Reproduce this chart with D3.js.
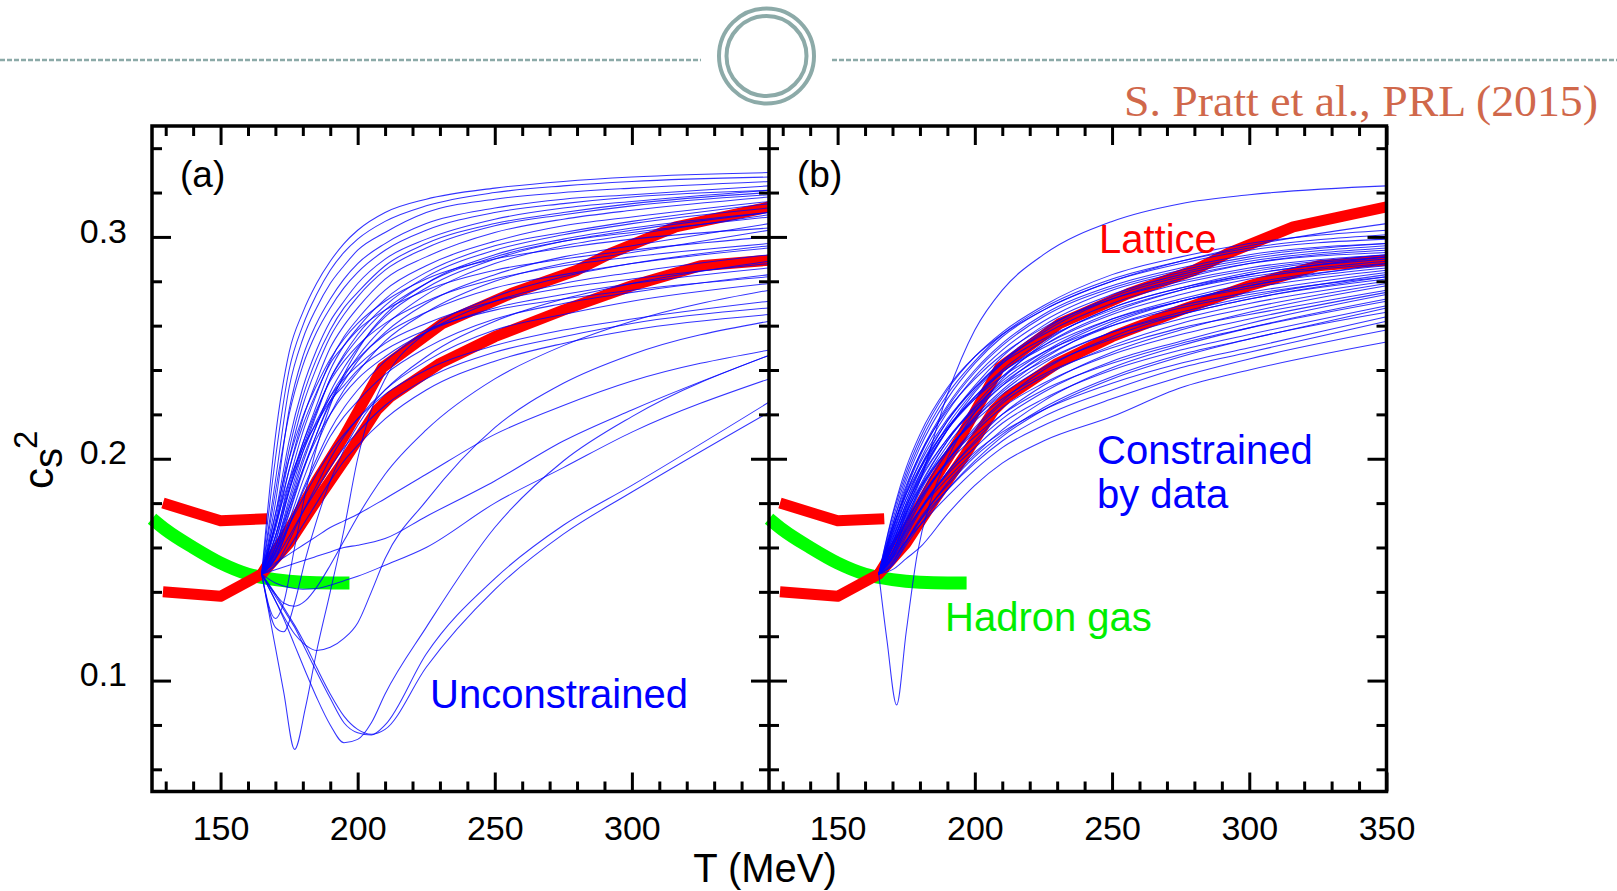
<!DOCTYPE html>
<html><head><meta charset="utf-8">
<script src="https://cdn.jsdelivr.net/npm/d3@7"></script>
<style>body{margin:0;background:#fff;} svg{display:block;}</style>
</head><body>
<svg id="c" width="1617" height="891"></svg>
<script>
// ---------------- data ----------------
const xMajorA = [150, 200, 250, 300];
const xMajorB = [150, 200, 250, 300, 350];
const xMinor = [130,140,160,170,180,190,210,220,230,240,260,270,280,290,310,320,330,340];
const yMajor = [0.1, 0.2, 0.3];
const yMinor = [0.06,0.08,0.12,0.14,0.16,0.18,0.22,0.24,0.26,0.28,0.32,0.34];

// Hadron gas (green)
const hadronT = [125,130,140,150,160,170,180,190,197];
const hadronV = [0.173,0.168,0.160,0.153,0.148,0.1455,0.1443,0.1440,0.1440];

// Lattice (red)
const latLowUpT = [129,150,167];
const latLowUpV = [0.180,0.172,0.173];
const latLowerT = [129,150,165,175,185,195,207,212,230,250,275,300,325,350];
const latLowerV = [0.140,0.138,0.148,0.162,0.181,0.199,0.222,0.228,0.243,0.255,0.267,0.278,0.287,0.2895];
const latUpperT = [165,175,185,195,209,231,256,280,292,316,350];
const latUpperV = [0.148,0.168,0.190,0.210,0.241,0.261,0.2745,0.285,0.2925,0.3045,0.3135];

// Panel (a): unconstrained, rising curves
const tRiseA = [165,170,175,180,185,190,195,200,210,225,250,275,300,350];
const riseA = [
 [.148,.210,.248,.266,.279,.289,.297,.303,.311,.317,.322,.325,.327,.329],
 [.148,.200,.240,.260,.274,.285,.293,.299,.307,.314,.320,.323,.325,.327],
 [.148,.190,.232,.254,.268,.279,.287,.294,.302,.311,.317,.320,.322,.325],
 [.148,.180,.222,.246,.261,.272,.281,.288,.297,.306,.313,.317,.319,.323],
 [.148,.175,.208,.232,.249,.262,.271,.279,.290,.299,.308,.313,.316,.321],
 [.148,.170,.200,.224,.241,.255,.265,.273,.285,.295,.305,.310,.314,.319],
 [.148,.168,.195,.218,.235,.250,.260,.268,.281,.291,.302,.308,.312,.318],
 [.148,.165,.190,.212,.229,.244,.255,.263,.276,.287,.298,.305,.309,.316],
 [.148,.162,.186,.207,.224,.240,.251,.259,.272,.284,.296,.302,.307,.315],
 [.148,.160,.182,.203,.220,.236,.247,.256,.269,.282,.294,.301,.306,.313],
 [.148,.158,.178,.198,.215,.230,.241,.250,.264,.277,.290,.298,.303,.311],
 [.148,.157,.175,.194,.211,.226,.237,.246,.260,.274,.288,.296,.301,.310],
 [.148,.158,.176,.195,.211,.225,.235,.244,.257,.270,.283,.291,.296,.306],
 [.148,.156,.172,.190,.206,.220,.231,.239,.253,.266,.280,.288,.293,.303],
 [.148,.170,.195,.215,.230,.243,.251,.258,.267,.276,.285,.290,.294,.300],
 [.148,.165,.188,.207,.222,.235,.244,.251,.261,.271,.281,.287,.291,.297],
 [.148,.160,.180,.200,.215,.228,.238,.245,.256,.266,.277,.283,.288,.295],
 [.148,.155,.170,.186,.200,.213,.223,.231,.244,.257,.271,.279,.284,.292],
 [.148,.165,.186,.203,.217,.228,.236,.242,.252,.261,.271,.277,.281,.288],
 [.148,.160,.178,.195,.209,.220,.229,.236,.246,.257,.268,.274,.279,.286],
 [.148,.155,.170,.185,.198,.210,.219,.226,.238,.250,.263,.270,.275,.283],
 [.148,.170,.190,.205,.216,.226,.233,.240,.249,.258,.267,.272,.276,.282],
 [.148,.152,.163,.176,.188,.200,.210,.218,.231,.244,.258,.265,.271,.279],
 [.148,.158,.170,.182,.193,.203,.211,.218,.229,.240,.251,.258,.263,.271],
 [.148,.155,.165,.176,.186,.196,.205,.212,.224,.236,.248,.255,.261,.268],
 [.148,.152,.160,.170,.180,.190,.199,.206,.218,.231,.244,.252,.258,.265],
 [.148,.185,.220,.242,.257,.268,.277,.284,.294,.303,.311,.315,.318,.321],
 [.148,.172,.204,.228,.245,.258,.268,.275,.287,.297,.306,.311,.315,.320],
 [.148,.163,.185,.205,.221,.236,.246,.254,.267,.279,.291,.298,.302,.309],
 [.148,.175,.200,.219,.233,.245,.254,.261,.271,.281,.290,.295,.299,.304],
 [.148,.153,.157,.161,.165,.169,.172,.175,.182,.193,.211,.224,.235,.249],
 [.148,.150,.152,.154,.156,.158,.160,.161,.164,.174,.190,.208,.222,.2466],
 [.148,.144,.142,.1412,.1415,.143,.145,.147,.152,.160,.180,.196,.212,.236]
];

// Panel (a): curves with a dip
const tDipA = [165,170,173,177,181,185,190,195,200,205,210,225,250,275,300,350];
const dipA = [
 [.148,.115,.095,.069,.088,.113,.140,.168,.200,.222,.236,.257,.273,.282,.288,.296],
 [.148,.136,.128,.116,.104,.0925,.080,.072,.0735,.081,.094,.124,.169,.199,.219,.2466],
 [.148,.138,.132,.124,.114,.104,.092,.081,.0765,.0755,.080,.112,.146,.170,.188,.2255],
 [.148,.139,.133,.125,.116,.106,.094,.084,.078,.0758,.078,.106,.141,.166,.185,.221],
 [.148,.136,.129,.121,.116,.1136,.115,.119,.126,.140,.155,.181,.214,.234,.247,.262],
 [.148,.139,.135,.1335,.136,.142,.152,.163,.174,.184,.193,.213,.236,.251,.262,.276],
 [.148,.128,.135,.160,.185,.205,.224,.238,.249,.258,.265,.279,.292,.299,.304,.311],
 [.148,.124,.122,.135,.155,.172,.190,.204,.215,.224,.231,.246,.262,.272,.279,.289]
];

// Panel (b): constrained by data
const tB = [165,170,175,180,190,200,210,225,250,275,300,350];
const curvesB = [
 [.148,.175,.196,.211,.232,.246,.256,.267,.280,.289,.296,.306],
 [.148,.172,.192,.207,.229,.244,.256,.268,.281,.289,.295,.301],
 [.148,.170,.190,.205,.227,.243,.255,.267,.280,.288,.294,.299],
 [.148,.168,.187,.202,.224,.240,.252,.265,.278,.286,.292,.297],
 [.148,.166,.184,.199,.221,.237,.249,.262,.276,.284,.290,.296],
 [.148,.163,.180,.195,.217,.233,.246,.260,.274,.283,.289,.295],
 [.148,.160,.176,.191,.213,.230,.243,.257,.272,.281,.288,.294],
 [.148,.170,.188,.202,.222,.236,.247,.259,.272,.280,.286,.292],
 [.148,.165,.182,.196,.217,.232,.244,.256,.270,.279,.285,.292],
 [.148,.162,.178,.192,.213,.228,.240,.253,.268,.277,.284,.291],
 [.148,.158,.173,.187,.208,.224,.237,.251,.266,.276,.283,.290],
 [.148,.168,.185,.198,.218,.232,.243,.254,.267,.276,.282,.289],
 [.148,.164,.180,.193,.213,.227,.239,.251,.265,.274,.281,.288],
 [.148,.160,.175,.188,.208,.223,.235,.248,.263,.272,.279,.287],
 [.148,.156,.170,.183,.203,.219,.231,.245,.261,.271,.278,.286],
 [.148,.166,.182,.195,.214,.228,.239,.250,.263,.271,.277,.285],
 [.148,.162,.177,.190,.209,.223,.234,.246,.260,.269,.275,.284],
 [.148,.158,.172,.185,.204,.218,.230,.243,.257,.266,.273,.283],
 [.148,.155,.168,.180,.199,.214,.226,.240,.255,.265,.272,.282],
 [.148,.164,.179,.191,.209,.222,.233,.244,.257,.265,.272,.281],
 [.148,.160,.174,.186,.204,.218,.229,.241,.254,.263,.270,.280],
 [.148,.156,.169,.181,.199,.213,.225,.237,.251,.261,.268,.279],
 [.148,.153,.165,.176,.194,.208,.220,.233,.248,.258,.266,.278],
 [.148,.162,.176,.187,.204,.217,.227,.238,.250,.259,.265,.276],
 [.148,.158,.171,.182,.199,.212,.223,.234,.247,.256,.263,.275],
 [.148,.155,.166,.177,.194,.207,.218,.230,.244,.253,.261,.274],
 [.148,.152,.162,.172,.189,.202,.213,.226,.241,.251,.259,.272],
 [.148,.160,.172,.182,.198,.210,.220,.231,.243,.252,.259,.271],
 [.148,.156,.167,.177,.193,.205,.216,.227,.240,.249,.256,.269],
 [.148,.153,.163,.173,.188,.201,.211,.223,.237,.247,.254,.268],
 [.148,.158,.168,.177,.191,.203,.212,.222,.234,.243,.250,.264],
 [.148,.154,.163,.172,.186,.198,.208,.219,.231,.241,.248,.262],
 [.148,.155,.163,.170,.183,.195,.205,.215,.227,.237,.245,.258],
 [.148,.150,.155,.160,.175,.188,.198,.208,.219,.232,.240,.2526],
 [.148,.174,.194,.209,.231,.246,.257,.269,.283,.291,.297,.303],
 [.148,.167,.186,.201,.223,.239,.251,.264,.277,.285,.291,.297],
 [.148,.161,.178,.193,.215,.231,.244,.258,.273,.282,.288,.293],
 [.148,.157,.172,.186,.206,.221,.233,.247,.262,.271,.278,.288],
 [.148,.169,.184,.196,.214,.227,.237,.248,.260,.268,.274,.282],
 [.148,.152,.161,.170,.186,.199,.210,.222,.236,.246,.254,.266],
 [.148,.160,.175,.190,.229,.258,.276,.292,.307,.315,.319,.323]
];
const tDipB = [165,168,171.5,175,179,185,190,200,210,225,250,275,300,350];
const dipB = [.148,.118,.089,.122,.157,.185,.200,.221,.236,.252,.268,.277,.283,.291];

// ---------------- drawing ----------------
const svg = d3.select('#c');
svg.append('rect').attr('width',1617).attr('height',891).attr('fill','#fff');

// header decoration
const deco = '#8caaa8';
svg.append('line').attr('x1',0).attr('x2',701).attr('y1',60).attr('y2',60)
  .attr('stroke',deco).attr('stroke-width',2.5).attr('stroke-dasharray','5,2');
svg.append('line').attr('x1',832).attr('x2',1617).attr('y1',60).attr('y2',60)
  .attr('stroke',deco).attr('stroke-width',2.5).attr('stroke-dasharray','5,2');
[47.5, 40].forEach(r => svg.append('circle').attr('cx',766.5).attr('cy',56).attr('r',r)
  .attr('fill','none').attr('stroke',deco).attr('stroke-width',4));

svg.append('text').attr('x',1124).attr('y',116)
  .attr('font-family','"Liberation Serif","DejaVu Serif",serif').attr('font-size',45)
  .attr('fill','#d0684b').attr('textLength',474).attr('lengthAdjust','spacingAndGlyphs')
  .text('S. Pratt et al., PRL (2015)');

const Y0 = 791.5, Y1 = 126, XL = 152, XM = 769, XR = 1386.5;
const y = d3.scaleLinear().domain([0.05,0.35]).range([Y0,Y1]);
const xA = d3.scaleLinear().domain([125,350]).range([XL,XM]);
const xB = d3.scaleLinear().domain([125,350]).range([XM,XR]);

const defs = svg.append('defs');
defs.append('clipPath').attr('id','clipA').append('rect').attr('x',XL).attr('y',Y1).attr('width',XM-XL).attr('height',Y0-Y1);
defs.append('clipPath').attr('id','clipB').append('rect').attr('x',XM).attr('y',Y1).attr('width',XR-XM).attr('height',Y0-Y1);

const pts = (ts, vs) => ts.map((t,i) => ({t, v: vs[i]}));
const FONT = '"Liberation Sans", Arial, Helvetica, sans-serif';

function panel(x, clipId, blueSeries) {
  const smooth = d3.line().x(d => x(d.t)).y(d => y(d.v)).curve(d3.curveMonotoneX);
  const lin = d3.line().x(d => x(d.t)).y(d => y(d.v));
  const g = svg.append('g');
  // hadron gas
  g.append('path').attr('d', smooth(pts(hadronT, hadronV)))
    .attr('fill','none').attr('stroke','#00ff00').attr('stroke-width',13);
  // lattice
  [[latLowUpT,latLowUpV],[latLowerT,latLowerV],[latUpperT,latUpperV]].forEach(([ts,vs]) => {
    g.append('path').attr('d', lin(pts(ts,vs)))
      .attr('fill','none').attr('stroke','#ff0000').attr('stroke-width',11)
      .attr('stroke-linejoin','round');
  });
  // blue models
  const gb = g.append('g').attr('clip-path',`url(#${clipId})`);
  blueSeries.forEach(([ts, vs]) => {
    gb.append('path').attr('d', smooth(pts(ts, vs)))
      .attr('fill','none').attr('stroke','#0000ff').attr('stroke-width',1.05).attr('stroke-opacity',0.8);
  });
}

panel(xA, 'clipA', riseA.map(v => [tRiseA, v]).concat(dipA.map(v => [tDipA, v])));
panel(xB, 'clipB', curvesB.map(v => [tB, v]).concat([[tDipB, dipB]]));

// frame
svg.append('rect').attr('x',XL).attr('y',Y1).attr('width',XR-XL).attr('height',Y0-Y1)
  .attr('fill','none').attr('stroke','#000').attr('stroke-width',3.5);
svg.append('line').attr('x1',XM).attr('x2',XM).attr('y1',Y1).attr('y2',Y0)
  .attr('stroke','#000').attr('stroke-width',3.5);

function styleAxis(g) {
  g.select('.domain').remove();
  g.selectAll('.tick line').attr('stroke','#000').attr('stroke-width',3);
  g.selectAll('text').attr('font-size',34).attr('font-family',FONT).attr('fill','#000');
}
function addAxis(axis, tx, ty) {
  const g = svg.append('g').attr('transform',`translate(${tx},${ty})`).call(axis);
  styleAxis(g);
  return g;
}

// x axes
[[xA, xMajorA],[xB, xMajorB]].forEach(([x, majors]) => {
  addAxis(d3.axisBottom(x).tickValues(majors).tickSize(-19).tickPadding(24).tickFormat(d3.format('d')), 0, Y0);
  addAxis(d3.axisBottom(x).tickValues(xMinor).tickSize(-10).tickFormat(''), 0, Y0);
  addAxis(d3.axisTop(x).tickValues(majors).tickSize(-19).tickFormat(''), 0, Y1);
  addAxis(d3.axisTop(x).tickValues(xMinor).tickSize(-10).tickFormat(''), 0, Y1);
});

// y axes
const gl = addAxis(d3.axisLeft(y).tickValues(yMajor).tickSize(-19).tickPadding(25).tickFormat(d3.format('.1f')), XL, 0);
gl.selectAll('text').attr('dy','0.15em');
addAxis(d3.axisLeft(y).tickValues(yMinor).tickSize(-10).tickFormat(''), XL, 0);
addAxis(d3.axisLeft(y).tickValues(yMajor).tickSize(18).tickFormat(''), XM, 0);
addAxis(d3.axisLeft(y).tickValues(yMinor).tickSize(10).tickFormat(''), XM, 0);
addAxis(d3.axisRight(y).tickValues(yMajor).tickSize(18).tickFormat(''), XM, 0);
addAxis(d3.axisRight(y).tickValues(yMinor).tickSize(10).tickFormat(''), XM, 0);
addAxis(d3.axisRight(y).tickValues(yMajor).tickSize(-19).tickFormat(''), XR, 0);
addAxis(d3.axisRight(y).tickValues(yMinor).tickSize(-10).tickFormat(''), XR, 0);

// axis titles
svg.append('text').attr('x',765).attr('y',881.5).attr('text-anchor','middle')
  .attr('font-family',FONT).attr('font-size',40).attr('fill','#000').text('T (MeV)');
const yt = svg.append('text').attr('transform','translate(53,489) rotate(-90)')
  .attr('font-family',FONT).attr('font-size',42).attr('fill','#000');
yt.append('tspan').text('c');
yt.append('tspan').attr('dy',9).attr('font-size',40).text('s');
yt.append('tspan').attr('dy',-25).attr('dx',-1).attr('font-size',33).text('2');

// panel labels
const lab = (x, yy, txt, col, fs) => svg.append('text').attr('x',x).attr('y',yy)
  .attr('font-family',FONT).attr('font-size',fs).attr('fill',col).text(txt);
lab(180, 187, '(a)', '#000', 37);
lab(797, 187, '(b)', '#000', 37);
lab(430, 708, 'Unconstrained', '#0000ff', 40);
lab(1099, 253, 'Lattice', '#ff0000', 40);
lab(1097, 464, 'Constrained', '#0000ff', 40);
lab(1097, 508, 'by data', '#0000ff', 40);
lab(945, 631, 'Hadron gas', '#00ee00', 40);
</script></body></html>
